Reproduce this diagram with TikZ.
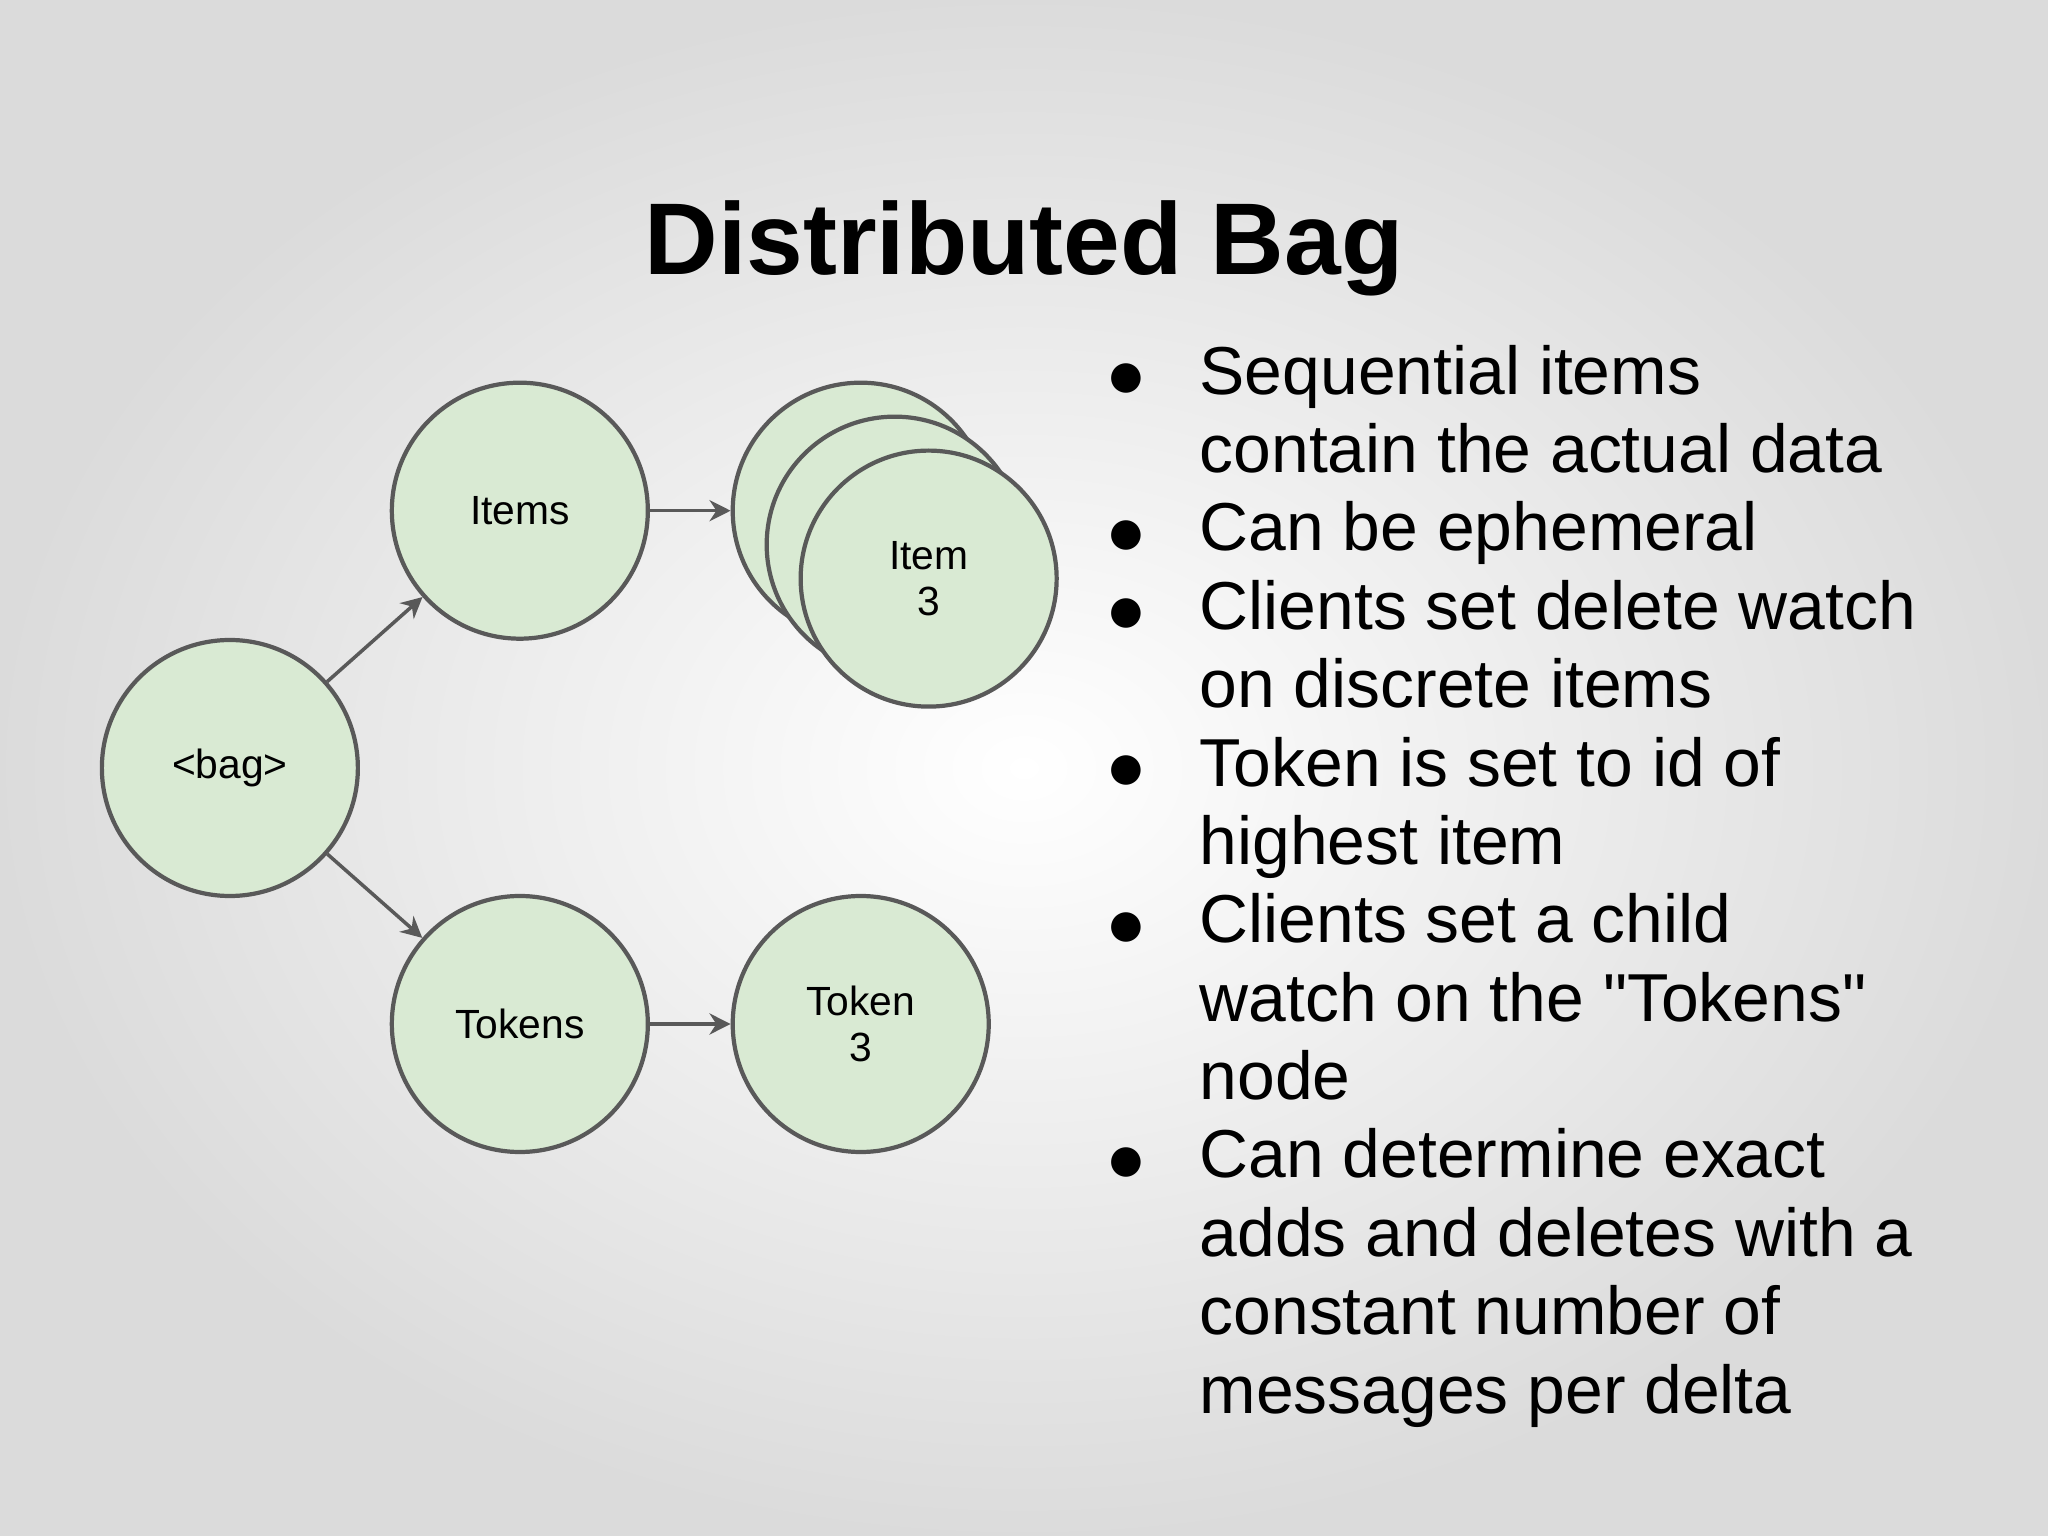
\documentclass[tikz,border=0pt]{standalone}
\usepackage{fontspec}
\setmainfont[Ligatures=NoCommon]{Liberation Sans}
\newfontfamily\dejavu{DejaVu Sans}
\newfontfamily\plainsans[Mapping=]{Liberation Sans}
\usetikzlibrary{arrows.meta}
\definecolor{cfill}{HTML}{D9EAD3}
\definecolor{cline}{HTML}{595959}
\tikzset{
 circ/.style={circle,draw=cline,line width=1.2pt,fill=cfill,minimum size={196*0.013061cm},inner sep=0pt,align=center,font=\fontsize{11.6}{13}\selectfont},
 conn/.style={draw=cline,line width=1pt,-{Stealth[length=6pt,width=6pt]}},
 txt/.style={anchor=west,font=\fontsize{19.3}{22}\selectfont,inner sep=0pt},
 bul/.style={font=\dejavu\fontsize{11}{13}\selectfont,inner sep=0pt}
}
\begin{document}
\begin{tikzpicture}[x=0.013061cm,y=-0.013061cm]
\shade[inner color=white,outer color=gray!28] (0,0) rectangle (1568,1176);
\useasboundingbox (0,0) rectangle (1568,1176);
\node[font=\bfseries\fontsize{29}{34}\selectfont] (title) at (784,190) {Distributed Bag};
\node[circ] (bag) at (176,588) {<bag>};
\node[circ] (items) at (398,391) {Items};
\node[circ] (tokens) at (398,784) {Tokens};
\node[circ] (token3) at (659,784) {Token\\3};
\node[circ] (s1) at (659,391) {};
\node[circ] (s2) at (685,417) {};
\node[circ] (s3) at (711,443) {Item\\3};
\draw[conn] (bag) -- (items);
\draw[conn] (bag) -- (tokens);
\draw[conn] (items) -- (s1);
\draw[conn] (tokens) -- (token3);
\foreach \y in {290,410,470,590,710,890}{\node[bul] at (862,\y) {●};}
\foreach \y/\t in {290/Sequential items,350/contain the actual data,410/Can be ephemeral,470/Clients set delete watch,530/on discrete items,590/Token is set to id of,650/highest item,710/Clients set a child,770/watch on the \textquotedbl Tokens\textquotedbl,830/node,890/Can determine exact,950/adds and deletes with a,1010/constant number of,1070/messages per delta}{\node[txt] at (918,\y) {\t\strut};}
\end{tikzpicture}
\end{document}
